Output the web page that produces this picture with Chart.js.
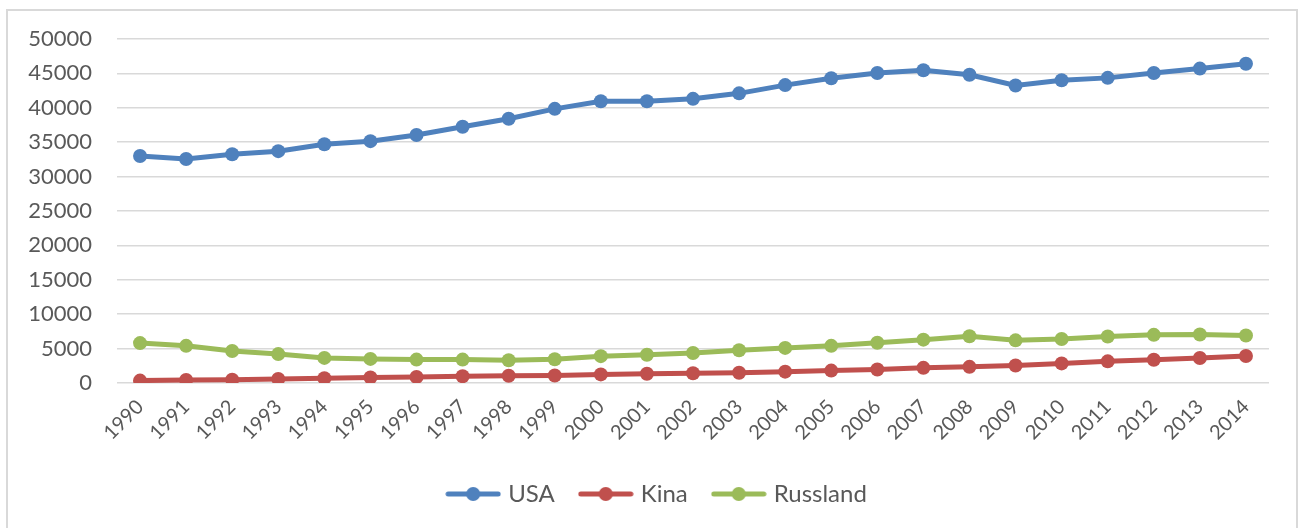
<!DOCTYPE html>
<html>
<head>
<meta charset="utf-8">
<script src="https://cdn.jsdelivr.net/npm/chart.js@4"></script>
<style>
  html, body { margin: 0; padding: 0; background: #fff; }
  body { width: 1306px; height: 528px; position: relative; overflow: hidden; }
  #frame { position: absolute; left: 6px; top: 9px; width: 1292px; height: 540px; border: 2px solid #d9d9d9; box-sizing: border-box; }
  #wrap { position: absolute; left: 0; top: 0; width: 1306px; height: 528px; }
</style>
</head>
<body>
<div id="frame"></div>
<div id="wrap"><canvas id="ch"></canvas></div>
<script>
// Årlige verdier 1990–2014: USA, Kina og Russland
const years = ["1990","1991","1992","1993","1994","1995","1996","1997","1998","1999","2000","2001","2002",
  "2003","2004","2005","2006","2007","2008","2009","2010","2011","2012","2013","2014"];
const usa = [33000, 32550, 33250, 33700, 34700, 35150, 36050, 37250, 38400, 39850, 40950, 40950, 41300,
  42100, 43300, 44300, 45050, 45450, 44800, 43250, 44000, 44350, 45050, 45700, 46400];
const kina = [350, 440, 490, 590, 690, 800, 880, 980, 1050, 1100, 1250, 1350, 1420,
  1480, 1650, 1800, 1960, 2200, 2350, 2550, 2850, 3150, 3380, 3630, 3920];
const russland = [5800, 5400, 4650, 4200, 3650, 3500, 3400, 3400, 3300, 3450, 3900, 4100, 4350,
  4750, 5100, 5400, 5850, 6300, 6800, 6200, 6400, 6750, 7000, 7050, 6900];
const yTicks = [0, 5000, 10000, 15000, 20000, 25000, 30000, 35000, 40000, 45000, 50000];

const FONT = "Lato";
const TEXT = "#595959";

// linje med punkt, som i Excel-forklaringen
function legendIcon(color) {
  const c = document.createElement("canvas");
  c.width = 56; c.height = 16;
  const g = c.getContext("2d");
  g.strokeStyle = color; g.lineWidth = 5; g.lineCap = "round";
  g.beginPath(); g.moveTo(3, 8); g.lineTo(53, 8); g.stroke();
  g.fillStyle = color;
  g.beginPath(); g.arc(28, 8, 7, 0, Math.PI * 2); g.fill();
  return c;
}

function series(label, data, color) {
  return {
    label, data,
    borderColor: color, backgroundColor: color,
    borderWidth: 5, pointRadius: 7, pointHoverRadius: 7, pointBorderWidth: 0,
    pointBackgroundColor: color, pointStyle: "circle", tension: 0
  };
}

// forklaringen sentreres over hele rammen, ikke bare plottet
const shiftLegend = {
  id: "shiftLegend",
  afterLayout(chart) {
    const lg = chart.legend;
    if (!lg) return;
    lg.left += 24; lg.right += 24;
    (lg.legendHitBoxes || []).forEach((b) => { b.left += 12; });
  }
};

new Chart(document.getElementById("ch"), {
  type: "line",
  data: {
    labels: years,
    datasets: [
      series("USA", usa, "#4f81bd"),
      series("Kina", kina, "#c0504d"),
      series("Russland", russland, "#9bbb59")
    ]
  },
  plugins: [shiftLegend],
  options: {
    responsive: true, maintainAspectRatio: false, animation: false,
    layout: { padding: { top: 39, right: 37, bottom: 12, left: 0 } },
    plugins: {
      tooltip: { enabled: false },
      legend: {
        position: "bottom",
        labels: {
          usePointStyle: true, pointStyleWidth: 46, padding: 28,
          color: TEXT, font: { family: FONT, size: 24 },
          generateLabels: (chart) => Chart.defaults.plugins.legend.labels.generateLabels(chart)
            .map((it) => Object.assign(it, { pointStyle: legendIcon(chart.data.datasets[it.datasetIndex].borderColor) }))
        }
      }
    },
    scales: {
      x: {
        offset: true,
        grid: { display: false },
        border: { display: false },
        ticks: { color: TEXT, font: { family: FONT, size: 20 }, maxRotation: 45, minRotation: 45, autoSkip: false, padding: 4 },
        afterFit: (s) => { s.height = 71; }
      },
      y: {
        min: 0, max: 50000,
        afterBuildTicks: (s) => { s.ticks = yTicks.map((v) => ({ value: v })); },
        grid: { color: "#d9d9d9", lineWidth: 1.5, drawTicks: false },
        border: { display: false },
        ticks: { color: TEXT, font: { family: FONT, size: 22 }, padding: 25, callback: (v) => String(v) },
        afterFit: (s) => { s.width = 117; }
      }
    }
  }
});
</script>
</body>
</html>
